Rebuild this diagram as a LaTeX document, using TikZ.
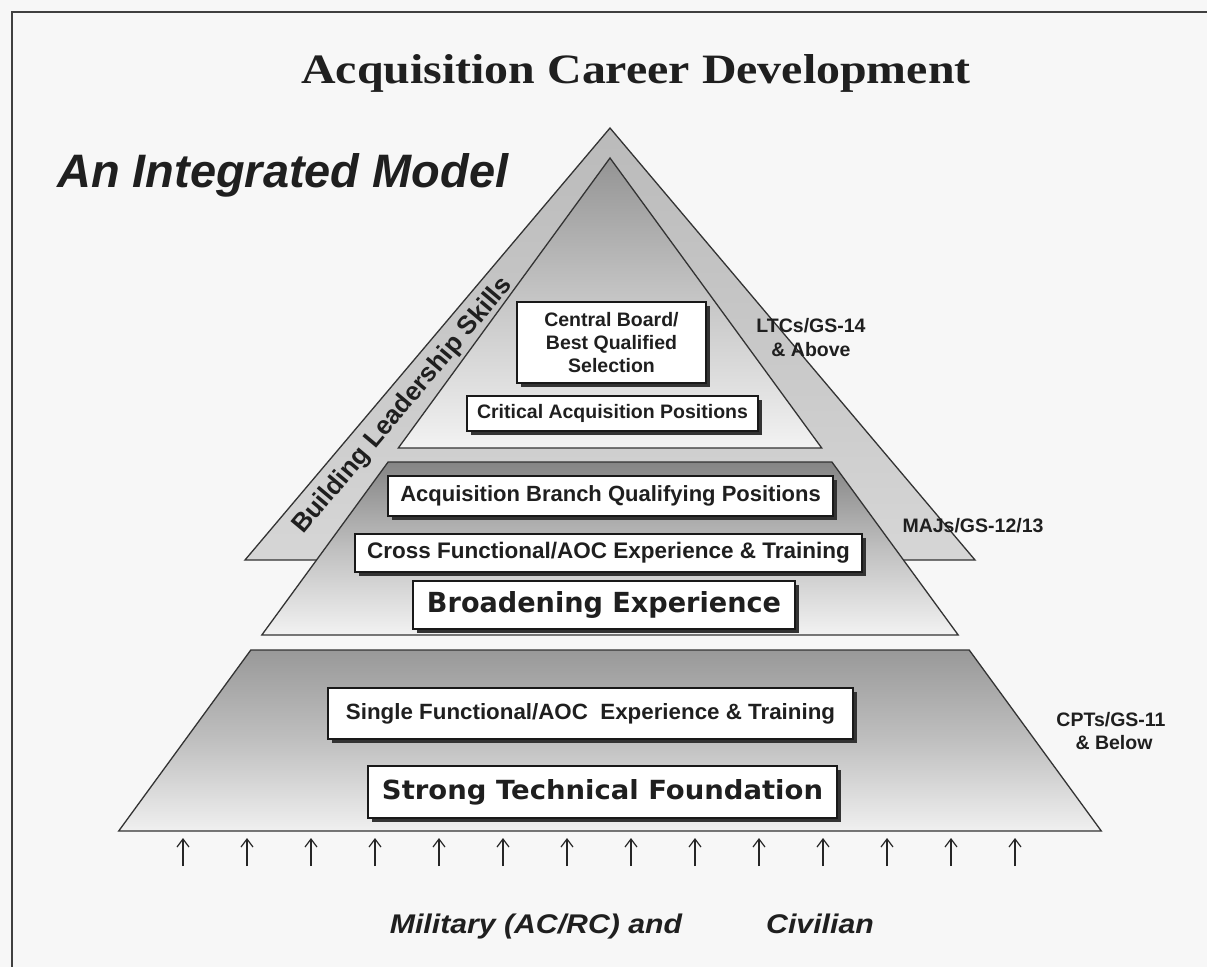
\documentclass[tikz,border=0pt]{standalone}
\usepackage{fontspec}
\usepackage{graphicx}
\setmainfont{Liberation Sans}
\newfontfamily\serifbold{Liberation Serif}
\newfontfamily\heavysans{DejaVu Sans}
\usetikzlibrary{arrows.meta,shadows}
\begin{document}
\begin{tikzpicture}[x=1pt,y=-1pt,
  txt/.style={text=black!88, inner sep=0pt},
  bx/.style={draw=black!90, line width=1.4pt, fill=white, inner sep=0pt, align=center, text=black!88,
    drop shadow={shadow xshift=3.5pt, shadow yshift=-3.5pt, fill=black!80, opacity=1}},
  tier/.style={draw=black!80, line width=1.3pt},
  lbl/.style={text=black!88, inner sep=0pt, font=\bfseries\fontsize{19.5}{23}\selectfont},
  foot/.style={text=black!88, inner sep=0pt, anchor=base},
  upar/.style={draw=black!85, line width=1.2pt, -{Straight Barb[length=8pt,width=12pt,line width=1.2pt]}}
]
\useasboundingbox (0,0) rectangle (1207,967);
\fill[black!3] (0,0) rectangle (1207,967);
% frame
\coordinate (fTL) at (12,12);
\coordinate (fTR) at (1207,12);
\coordinate (fBL) at (12,967);
\draw[black!75, line width=2pt] (fTR) -- (fTL) -- (fBL);

% outer leadership triangle
\coordinate (oA) at (610,128);
\coordinate (oL) at (245,560);
\coordinate (oR) at (975,560);
\shadedraw[tier, top color=black!27, bottom color=black!16] (oA) -- (oL) -- (oR) -- cycle;

% top tier
\coordinate (tA) at (610,158);
\coordinate (tL) at (398.3,448);
\coordinate (tR) at (821.7,448);
\shadedraw[tier, top color=black!42, bottom color=black!5, middle color=black!22] (tA) -- (tL) -- (tR) -- cycle;

% middle tier
\coordinate (mTL) at (388.1,462);
\coordinate (mTR) at (831.9,462);
\coordinate (mBR) at (958.2,635);
\coordinate (mBL) at (261.8,635);
\shadedraw[tier, top color=black!48, bottom color=black!5, middle color=black!25] (mTL) -- (mTR) -- (mBR) -- (mBL) -- cycle;

% bottom tier
\coordinate (bTL) at (250.8,650);
\coordinate (bTR) at (969.2,650);
\coordinate (bBR) at (1101.3,831);
\coordinate (bBL) at (118.7,831);
\shadedraw[tier, top color=black!40, bottom color=black!6, middle color=black!25] (bTL) -- (bTR) -- (bBR) -- (bBL) -- cycle;

% titles
\node[txt, anchor=base] (title) at (636,83) {\resizebox{669pt}{29pt}{\serifbold\bfseries Acquisition Career Development}};
\node[txt, anchor=base west] (sub) at (57,187) {\resizebox{451pt}{34pt}{\bfseries\itshape An Integrated Model}};

\node[txt, rotate=50, font=\bfseries\fontsize{26}{30}\selectfont] (bls) at (403,406) {Building Leadership Skills};

% boxes
\node[bx, minimum width=189pt, minimum height=81pt, font=\bfseries\fontsize{19.5}{23}\selectfont] (cb) at (611.5,342.5) {Central Board/\\Best Qualified\\Selection};
\node[bx, minimum width=291pt, minimum height=35pt, font=\bfseries\fontsize{19.5}{23}\selectfont] (cap) at (612.5,413.5) {Critical Acquisition Positions};
\node[bx, minimum width=445pt, minimum height=40pt, font=\bfseries\fontsize{22}{26}\selectfont] (abq) at (610.5,496) {Acquisition Branch Qualifying Positions};
\node[bx, minimum width=507pt, minimum height=38pt, font=\bfseries\fontsize{22.5}{26}\selectfont] (cf) at (608.5,553) {Cross Functional/AOC Experience \& Training};
\node[bx, minimum width=382pt, minimum height=48pt] (be) at (604,605) {\resizebox{354pt}{21pt}{\heavysans\bfseries Broadening Experience}};
\node[bx, minimum width=525pt, minimum height=51pt] (sf) at (590.5,713.5) {\resizebox{489pt}{16pt}{\bfseries Single Functional/AOC\ \ Experience \& Training}};
\node[bx, minimum width=469pt, minimum height=52pt] (stf) at (602.5,792) {\resizebox{441pt}{20pt}{\heavysans\bfseries Strong Technical Foundation}};

% grade labels
\node[lbl, anchor=base] (ltc1) at (811,332) {LTCs/GS-14};
\node[lbl, anchor=base] (ltc2) at (811,356) {\& Above};
\node[lbl, anchor=base] (maj) at (973,532) {MAJs/GS-12/13};
\node[lbl, anchor=base] (cpt1) at (1111,726) {CPTs/GS-11};
\node[lbl, anchor=base] (cpt2) at (1114,749) {\& Below};

% arrows
\foreach \i in {0,...,13} {
  \coordinate (as\i) at ({183+64*\i},866);
  \coordinate (ae\i) at ({183+64*\i},838);
  \draw[upar] (as\i) -- (ae\i);
}

\node[foot] (mil) at (536,933) {\scalebox{1.12}[1]{\bfseries\itshape\fontsize{27}{30}\selectfont Military (AC/RC) and}};
\node[foot] (civ) at (820,933) {\scalebox{1.12}[1]{\bfseries\itshape\fontsize{27}{30}\selectfont Civilian}};
\end{tikzpicture}
\end{document}
